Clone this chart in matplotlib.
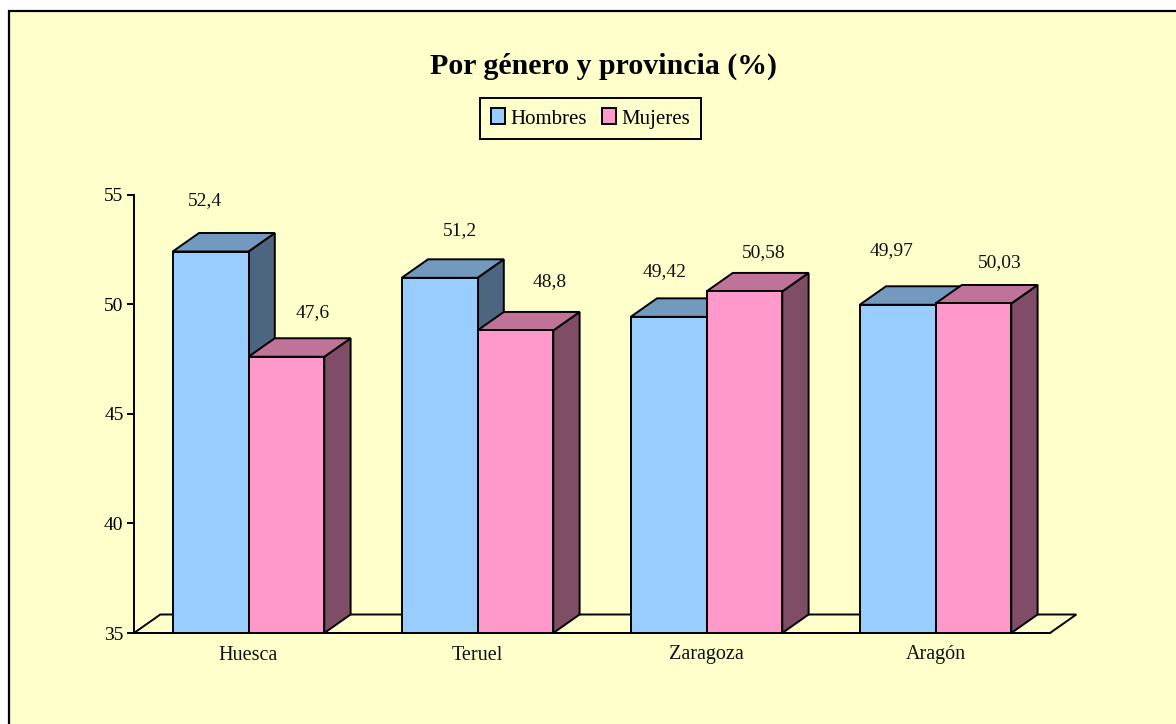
import matplotlib
matplotlib.use("Agg")
import matplotlib.pyplot as plt
from matplotlib.patches import Polygon, Rectangle, Patch

categories = ["Huesca", "Teruel", "Zaragoza", "Aragón"]
hombres = [52.4, 51.2, 49.42, 49.97]
mujeres = [47.6, 48.8, 50.58, 50.03]
labels_h = ["52,4", "51,2", "49,42", "49,97"]
labels_m = ["47,6", "48,8", "50,58", "50,03"]
yticks = [35, 40, 45, 50, 55]

W, H = 1176, 724
BG = "#FFFFCC"
LW = 1.4
FS = 14
plt.rcParams["font.family"] = ["Liberation Serif", "DejaVu Serif"]

fig = plt.figure(figsize=(W / 100, H / 100), dpi=100, facecolor="white")
fig.add_artist(Rectangle((9 / W, 1 - 740 / H), (1200 - 9) / W, (740 - 11) / H,
                         transform=fig.transFigure, fc=BG, ec="black", lw=1.6, zorder=-5))

x0, x1, ytop, ybot = 134, 1050, 194.5, 633
ax = fig.add_axes([x0 / W, 1 - ybot / H, (x1 - x0) / W, (ybot - ytop) / H])
ax.patch.set_alpha(0)
ax.set_xlim(0, len(categories))
ax.set_ylim(35, 55)
for s in ("top", "right", "bottom"):
    ax.spines[s].set_visible(False)
ax.spines["left"].set_linewidth(LW)
ax.set_yticks(yticks)
ax.set_xticks([])
ax.tick_params(axis="y", length=5, width=LW, labelsize=FS, pad=2.5)

dx = 26.3 / ((x1 - x0) / len(categories))
dy = 18.5 / ((ybot - ytop) / 20)
bw = 0.331
base = 35

# manual label placement: pixel offset of label centre from the front-left top corner of its bar
offs_h = [(32, 51), (58, 47), (34, 45), (32, 54)]
offs_m = [(64, 44), (72, 49), (57, 39), (64, 41)]


def shade(c, f):
    r, g, b = matplotlib.colors.to_rgb(c)
    return (r * f, g * f, b * f)


# floor
ax.add_patch(Polygon([(0, base), (len(categories), base),
                      (len(categories) + dx, base + dy), (dx, base + dy)],
                     closed=True, fc=BG, ec="black", lw=LW, clip_on=False, zorder=1))


def box(x, v, color, z):
    kw = dict(closed=True, ec="black", lw=LW, clip_on=False, joinstyle="miter", zorder=z)
    ax.add_patch(Polygon([(x + bw, base), (x + bw + dx, base + dy),
                          (x + bw + dx, v + dy), (x + bw, v)], fc=shade(color, 0.5), **kw))
    ax.add_patch(Polygon([(x, v), (x + bw, v), (x + bw + dx, v + dy), (x + dx, v + dy)],
                         fc=shade(color, 0.75), **kw))
    ax.add_patch(Polygon([(x, base), (x + bw, base), (x + bw, v), (x, v)], fc=color, **kw))


def value_label(x, v, text, off):
    ax.annotate(text, xy=(x, v), xytext=(off[0] * 0.72, off[1] * 0.72),
                textcoords="offset points", ha="center", va="center",
                fontsize=FS, color="#111111", zorder=20, annotation_clip=False)


C_H, C_M = "#99CCFF", "#FF99CC"
for i, (h, m) in enumerate(zip(hombres, mujeres)):
    c = i + 0.5
    box(c - bw, h, C_H, 2 + i * 2)
    box(c, m, C_M, 3 + i * 2)
    value_label(c - bw, h, labels_h[i], offs_h[i])
    value_label(c, m, labels_m[i], offs_m[i])
    ax.annotate(categories[i], xy=(c, base), xytext=(0, -22 * 0.72), textcoords="offset points",
                ha="center", va="center", fontsize=FS + 0.5, color="#111111", zorder=20,
                annotation_clip=False)

ax.plot([0, len(categories)], [base, base], color="black", lw=LW, clip_on=False, zorder=15)

fig.text(603.5 / W, 1 - 66 / H, "Por género y provincia (%)", ha="center", va="center",
         fontsize=21.5, fontweight="bold")

handles = [Patch(fc=C_H, ec="black", lw=LW), Patch(fc=C_M, ec="black", lw=LW)]
leg = fig.legend(handles, ["Hombres", "Mujeres"], ncol=2, loc="center",
                 bbox_to_anchor=(590.5 / W, 1 - 118.5 / H), fontsize=15, frameon=True,
                 fancybox=False, edgecolor="black", facecolor=BG, framealpha=1,
                 handlelength=0.67, handleheight=0.8, handletextpad=0.24, columnspacing=0.75,
                 borderpad=0.52, borderaxespad=0)
leg.get_frame().set_linewidth(LW)

fig.savefig("out.png", dpi=100, facecolor="white")
